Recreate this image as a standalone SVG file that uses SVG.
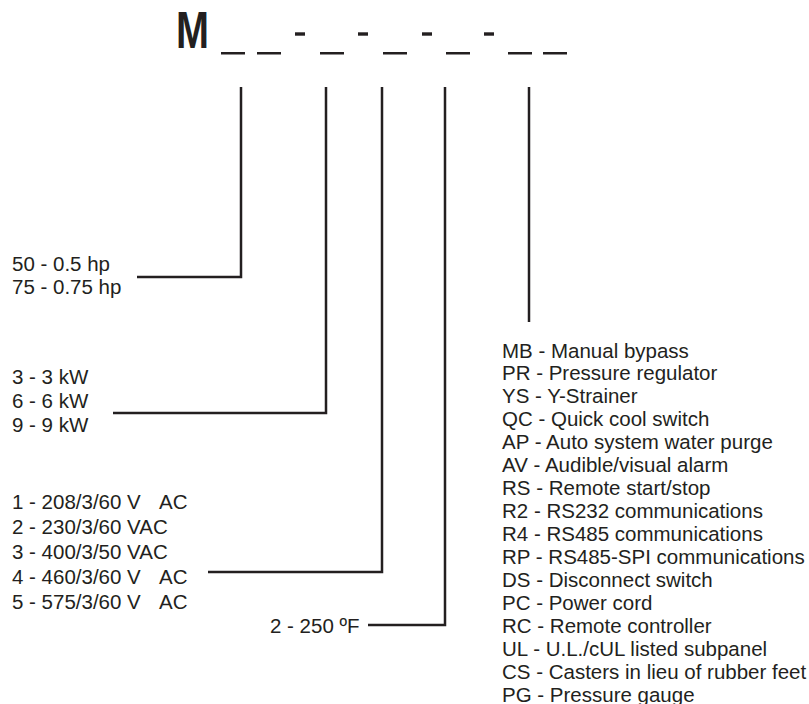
<svg xmlns="http://www.w3.org/2000/svg" width="809" height="704" viewBox="0 0 809 704">
<style>
.t{font-family:"Liberation Sans",Arial,sans-serif;font-size:20.5px;fill:#231f20}
.m{font-family:"Liberation Sans",Arial,sans-serif;font-size:51px;font-weight:bold;fill:#231f20}
.c{fill:none;stroke:#231f20;stroke-width:2.5}
.b{fill:#231f20}
</style>
<rect width="809" height="704" fill="#fff"/>
<g id="model-code">
<text class="m" x="176" y="47.5" textLength="33" lengthAdjust="spacingAndGlyphs">M</text>
<rect class="b" x="221" y="52" width="24" height="2.5"/>
<rect class="b" x="257" y="52" width="24" height="2.5"/>
<rect class="b" x="295" y="32.3" width="10" height="3.4"/>
<rect class="b" x="320" y="52" width="24" height="2.5"/>
<rect class="b" x="358" y="32.3" width="10" height="3.4"/>
<rect class="b" x="383" y="52" width="24" height="2.5"/>
<rect class="b" x="422" y="32.3" width="10" height="3.4"/>
<rect class="b" x="446" y="52" width="24" height="2.5"/>
<rect class="b" x="484" y="32.3" width="10" height="3.4"/>
<rect class="b" x="508" y="52" width="24" height="2.5"/>
<rect class="b" x="543" y="52" width="24" height="2.5"/>
</g>
<g id="connectors">
<polyline class="c" points="241,87 241,277 137,277"/>
<polyline class="c" points="326,87 326,413 113,413"/>
<polyline class="c" points="382,87 382,572 208,572"/>
<polyline class="c" points="445,87 445,625 368,625"/>
<line class="c" x1="529" y1="87" x2="529" y2="322"/>
</g>
<g id="horsepower">
<text class="t" x="12" y="270.5">50 - 0.5 hp</text>
<text class="t" x="12" y="293.5">75 - 0.75 hp</text>
</g>
<g id="heater">
<text class="t" x="12" y="383.5">3 - 3 kW</text>
<text class="t" x="12" y="407.5">6 - 6 kW</text>
<text class="t" x="12" y="432">9 - 9 kW</text>
</g>
<g id="voltage">
<text class="t" x="12" y="508.5">1 - 208/3/60 V<tspan x="159">AC</tspan></text>
<text class="t" x="12" y="533.5">2 - 230/3/60 VAC</text>
<text class="t" x="12" y="558.5">3 - 400/3/50 VAC</text>
<text class="t" x="12" y="584">4 - 460/3/60 V<tspan x="159">AC</tspan></text>
<text class="t" x="12" y="609">5 - 575/3/60 V<tspan x="159">AC</tspan></text>
</g>
<g id="temperature">
<text class="t" x="270" y="633">2 - 250 ºF</text>
</g>
<g id="options">
<text class="t" x="502" y="357.5">MB - Manual bypass</text>
<text class="t" x="502" y="380.4">PR - Pressure regulator</text>
<text class="t" x="502" y="403.4">YS - Y-Strainer</text>
<text class="t" x="502" y="426.3">QC - Quick cool switch</text>
<text class="t" x="502" y="449.2">AP - Auto system water purge</text>
<text class="t" x="502" y="472.2">AV - Audible/visual alarm</text>
<text class="t" x="502" y="495.1">RS - Remote start/stop</text>
<text class="t" x="502" y="518">R2 - RS232 communications</text>
<text class="t" x="502" y="541">R4 - RS485 communications</text>
<text class="t" x="502" y="563.9">RP - RS485-SPI communications</text>
<text class="t" x="502" y="586.8">DS - Disconnect switch</text>
<text class="t" x="502" y="609.7">PC - Power cord</text>
<text class="t" x="502" y="632.7">RC - Remote controller</text>
<text class="t" x="502" y="655.6">UL - U.L./cUL listed subpanel</text>
<text class="t" x="502" y="678.5">CS - Casters in lieu of rubber feet</text>
<text class="t" x="502" y="701.5">PG - Pressure gauge</text>
</g>
</svg>
